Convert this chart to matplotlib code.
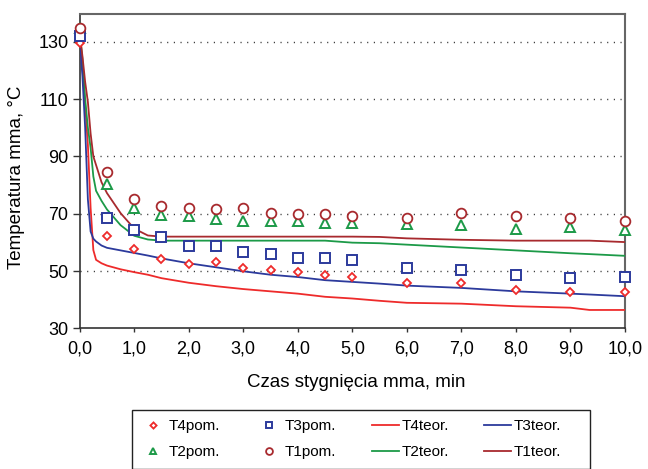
import matplotlib
matplotlib.use("Agg")
import matplotlib.pyplot as plt
from matplotlib.patches import Rectangle
from matplotlib.ticker import FuncFormatter

plt.rcParams["font.family"] = ["Liberation Sans", "DejaVu Sans"]

# measured points (pom.)
t_pom = [0, 0.5, 1.0, 1.5, 2.0, 2.5, 3.0, 3.5, 4.0, 4.5, 5.0, 6.0, 7.0, 8.0, 9.0, 10.0]
t1_pom = [135.0, 84.6, 75.0, 72.7, 72.0, 71.5, 72.1, 70.3, 69.8, 69.8, 69.2, 68.6, 70.3, 69.2, 68.6, 67.4]
t2_pom = [135.0, 80.5, 72.0, 69.7, 69.2, 68.3, 67.6, 67.6, 67.6, 66.7, 66.7, 66.4, 66.0, 64.6, 65.3, 64.2]
t3_pom = [132.0, 68.4, 64.2, 61.8, 58.8, 58.8, 56.6, 55.8, 54.6, 54.6, 53.8, 51.0, 50.4, 48.5, 47.5, 47.9]
t4_pom = [129.5, 62.3, 57.6, 54.3, 52.3, 53.3, 51.0, 50.5, 49.6, 48.7, 47.8, 45.9, 45.9, 43.3, 42.5, 42.5]

# calculated curves (teor.)
t_teor = [0, 0.05, 0.1, 0.15, 0.2, 0.25, 0.3, 0.4, 0.5, 0.75, 1.0, 1.25, 1.5,
          2.0, 2.5, 3.0, 3.5, 4.0, 4.5, 5.0, 5.5, 6.0, 7.0, 8.0, 9.0, 9.35, 10.0]
t1_teor = [133.0, 125.0, 116.0, 109.0, 98.0, 90.0, 87.0, 81.0, 77.2, 70.2, 64.8, 62.4, 62.0,
           62.0, 62.0, 62.0, 62.0, 62.0, 62.0, 62.0, 61.9, 61.4, 60.9, 60.6, 60.6, 60.6, 60.1]
t2_teor = [133.0, 124.0, 110.0, 100.0, 93.0, 83.0, 78.0, 74.5, 71.5, 66.0, 62.3, 61.0, 60.6,
           60.6, 60.6, 60.6, 60.6, 60.6, 60.6, 59.9, 59.7, 59.2, 58.2, 57.2, 56.2, 55.9, 55.3]
t3_teor = [131.0, 118.0, 100.0, 75.0, 63.8, 61.3, 60.3, 58.9, 58.1, 57.2, 56.3, 55.4, 54.4,
           52.7, 51.3, 49.9, 48.7, 47.9, 46.8, 46.2, 45.6, 44.9, 44.1, 42.9, 42.1, 41.8, 41.2]
t4_teor = [130.0, 121.0, 108.0, 94.0, 72.0, 57.3, 53.9, 52.7, 51.9, 50.6, 49.6, 48.7, 47.5,
           45.9, 44.7, 43.7, 42.9, 42.1, 41.0, 40.4, 39.6, 38.9, 38.6, 37.7, 37.2, 36.4, 36.4]

RED = "#ee2b2b"
BLUE = "#2c3a9c"
GREEN = "#1c9a48"
DRED = "#a82a2e"

W, H = 648, 469
fig = plt.figure(figsize=(W / 100, H / 100), dpi=100)
ax = fig.add_axes([0.123, 0.300, 0.8415, 0.670])

h_t4p, = ax.plot(t_pom, t4_pom, ls="none", marker="D", ms=4.5, mfc="white", mec=RED, mew=1.3,
                 label="T4pom.", clip_on=False, zorder=4)
h_t2p, = ax.plot(t_pom, t2_pom, ls="none", marker="^", ms=7, mfc="white", mec=GREEN, mew=1.4,
                 label="T2pom.", clip_on=False, zorder=4)
h_t3p, = ax.plot(t_pom, t3_pom, ls="none", marker="s", ms=7, mfc="white", mec=BLUE, mew=1.4,
                 label="T3pom.", clip_on=False, zorder=4)
h_t1p, = ax.plot(t_pom, t1_pom, ls="none", marker="o", ms=7, mfc="white", mec=DRED, mew=1.3,
                 label="T1pom.", clip_on=False, zorder=5)

h_t4t, = ax.plot(t_teor, t4_teor, color=RED, lw=1.3, label="T4teor.", zorder=3)
h_t2t, = ax.plot(t_teor, t2_teor, color=GREEN, lw=1.3, label="T2teor.", zorder=3)
h_t3t, = ax.plot(t_teor, t3_teor, color=BLUE, lw=1.3, label="T3teor.", zorder=3)
h_t1t, = ax.plot(t_teor, t1_teor, color=DRED, lw=1.3, label="T1teor.", zorder=3)

ax.set_xlim(0, 10)
ax.set_ylim(30, 139.7)
ax.set_xticks(range(0, 11))
ax.set_yticks([30, 50, 70, 90, 110, 130])
ax.xaxis.set_major_formatter(FuncFormatter(lambda v, p: f"{v:.1f}".replace(".", ",")))
ax.tick_params(axis="both", labelsize=13, color="#333333", width=1.0, direction="out")
ax.tick_params(axis="x", length=3, pad=6)
ax.tick_params(axis="y", length=5, pad=3)

for y in [50, 70, 90, 110, 130]:
    ax.axhline(y, color="#333333", lw=1.0, ls=(0, (0.8, 4)), zorder=1)

for side in ["left", "bottom"]:
    ax.spines[side].set_color("#333333")
    ax.spines[side].set_linewidth(1.2)
for side in ["top", "right"]:
    ax.spines[side].set_color("#666666")
    ax.spines[side].set_linewidth(1.5)

ax.set_xlabel("Czas stygnięcia mma, min", fontsize=13.5)
ax.set_ylabel("Temperatura mma, °C", fontsize=13.5)
ax.xaxis.set_label_coords(0.508, -0.145)
ax.yaxis.set_label_coords(-0.100, 0.48)

# legend: entries without frame, box drawn separately
handles = [h_t4p, h_t2p, h_t3p, h_t1p, h_t4t, h_t2t, h_t3t, h_t1t]
leg = fig.legend(handles=handles, ncol=4, loc="upper left",
                 bbox_to_anchor=(139 / W, 1 - 419 / H),
                 borderaxespad=0, borderpad=0, fontsize=11, frameon=False,
                 handlelength=1.8, handletextpad=0.15, markerscale=0.7,
                 labelspacing=0.8, columnspacing=2.3)
fig.patches.append(Rectangle((131.7 / W, 0), (590 - 131.7) / W, (469 - 410) / H,
                             transform=fig.transFigure, fill=False,
                             edgecolor="#222222", lw=1.0))

fig.savefig("out.png", dpi=100)
